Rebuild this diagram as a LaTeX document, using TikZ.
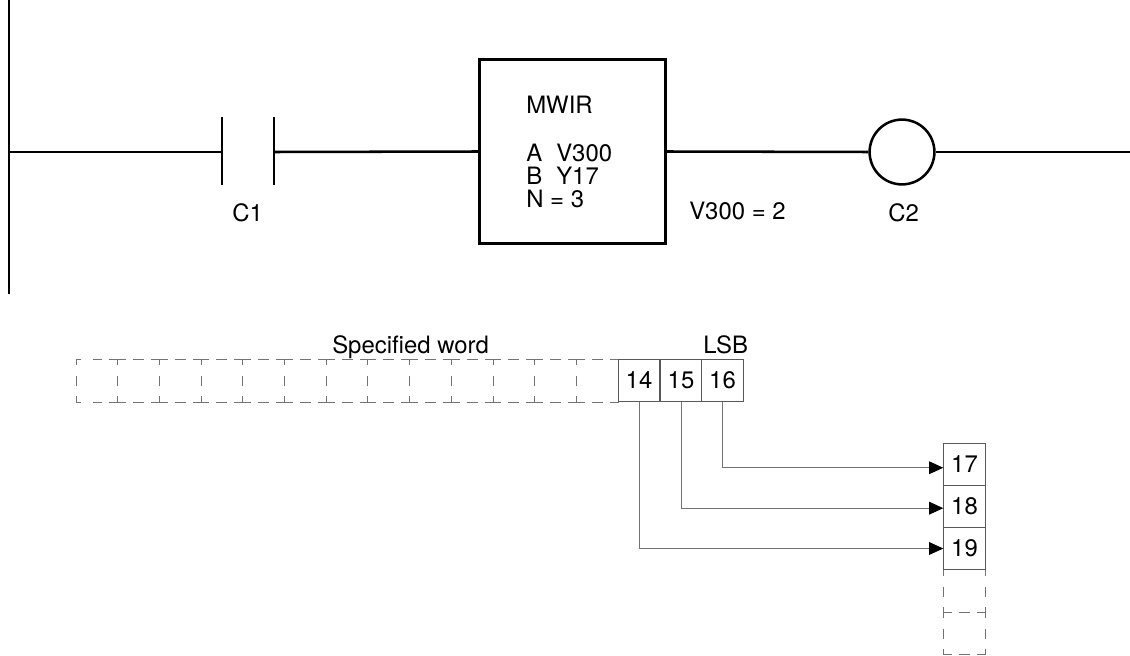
\documentclass[tikz,border=0pt]{standalone}
\usepackage{fontspec}
\setmainfont{TeX Gyre Heros}
\usepackage{tikz}
\usetikzlibrary{positioning}
\usetikzlibrary{arrows.meta}
\tikzset{
    wire/.style={line width=1.8pt,black},
    thinwire/.style={line width=0.6pt,black!55},
    label/.style={inner sep=0pt,anchor=base west},
    cell/.style={draw=black!65,line width=0.6pt,inner sep=0pt,minimum width=1.04cm,minimum height=1.06cm},
    dashh/.style={line width=0.6pt,black!55,dash pattern=on 5.9pt off 5pt on 7.8pt off 5pt on 5.9pt off 0pt},
    dashfirst/.style={line width=0.6pt,black!55,dash pattern=on 3.4pt off 9pt on 5.9pt off 5pt on 6.3pt off 0pt},
    dashv/.style={line width=0.6pt,black!55,dash pattern=on 4.3pt off 7.5pt on 7.1pt off 7.5pt on 4.3pt off 0pt},
    tip/.style={-{Triangle[length=10pt,width=9pt,black]}}
}
\begin{document}
\begin{tikzpicture}[x=0.025cm,y=-0.025cm,font=\fontsize{17}{17}\selectfont]
        \useasboundingbox (0,0) rectangle (1130,656);
        \coordinate (railtop) at (9,0);
        \coordinate (railmid) at (9,152);
        \coordinate (railend) at (9,294);
        \coordinate (plateL) at (222,152);
        \coordinate (plateR) at (274,152);
        \coordinate (lineend) at (1130,152);
        \node[draw,line width=1.8pt,minimum width=4.65cm,minimum height=4.6cm,inner sep=0pt] (mwir) at (572.5,151.5) {};
        \node[draw,circle,line width=1.8pt,minimum size=1.62cm,inner sep=0pt] (coil) at (902,152) {};
        \draw[wire] (railtop) -- (railend);
        \draw[wire] (railmid) -- (plateL);
        \draw[wire] (plateL) ++(0,-35) -- ++(0,68);
        \draw[wire] (plateR) ++(0,-35) -- ++(0,68);
        \draw[wire] (plateR) -- (mwir.west);
        \draw[wire] (mwir.east) -- (coil.west);
        \draw[wire] (coil.east) -- (lineend);
        \node[label] (c1label) at (232,222) {C1};
        \node[label] (c2label) at (888,222) {C2};
        \node[label] (vlabel) at (689,219) {V300 = 2};
        \node[label] (mwirname) at (526,114) {MWIR};
        \node[label] (mwirA) at (526,161) {\makebox[0.75cm][l]{A}V300};
        \node[label] (mwirB) at (526,184) {\makebox[0.75cm][l]{B}Y17};
        \node[label] (mwirN) at (526,207) {N = 3};
        \node[label] (wordlabel) at (332,353) {Specified word};
        \node[label] (lsblabel) at (703,353) {LSB};
        \draw[dashfirst] (76,359) -- ++(41.7,0);
        \draw[dashfirst] (76,402) -- ++(41.7,0);
        \draw[dashv] (76,359) -- ++(0,43);
        \foreach \i in {1,...,12} {
            \draw[dashh] (76+41.7*\i,359) -- ++(41.7,0);
            \draw[dashh] (76+41.7*\i,402) -- ++(41.7,0);
            \draw[dashv] (76+41.7*\i,359) -- ++(0,43);
        }
        \node[cell] (c14) at (639,380.5) {14};
        \node[cell] (c15) at (681,380.5) {15};
        \node[cell] (c16) at (722.5,380.5) {16};
        \node[cell] (c17) at (964.5,464.5) {17};
        \node[cell] (c18) at (964.5,506.5) {18};
        \node[cell] (c19) at (964.5,548.5) {19};
        \draw[dashv] (c19.south west) -- ++(0,42);
        \draw[dashv] (c19.south east) -- ++(0,42);
        \draw[dashv] (c19.south west) ++(0,42) -- ++(0,42);
        \draw[dashv] (c19.south east) ++(0,42) -- ++(0,42);
        \draw[dashh] (c19.south west) ++(0,42) -- ++(42,0);
        \draw[dashh] (c19.south west) ++(0,84) -- ++(42,0);
        \draw[thinwire,tip] (c16.south) |- ([yshift=-2.3pt]c17.west);
        \draw[thinwire,tip] (c15.south) |- ([yshift=-1.2pt]c18.west);
        \draw[thinwire,tip] (c14.south) |- (c19.west);
    \end{tikzpicture}
\end{document}
